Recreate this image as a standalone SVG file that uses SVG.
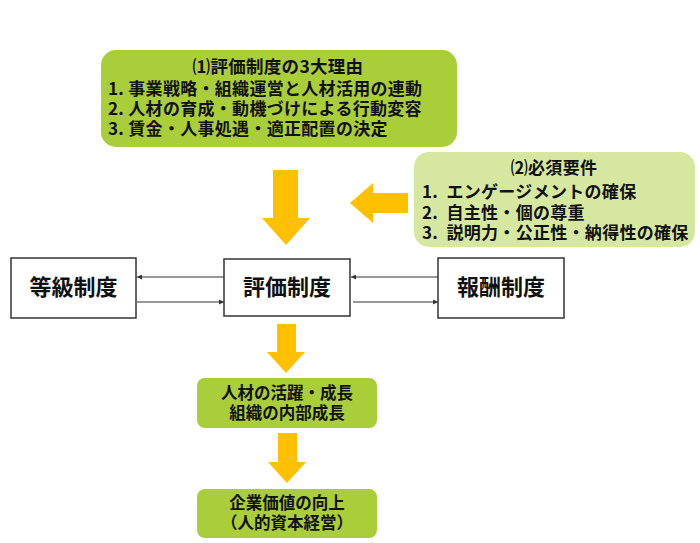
<svg xmlns="http://www.w3.org/2000/svg" width="700" height="543" viewBox="0 0 700 543">
<style>
text{font-family:"Noto Sans CJK JP","Noto Sans",sans-serif;font-weight:bold;fill:#111}
.t17{font-size:17px;letter-spacing:0.3px}
.t16{font-size:16.5px}
.t22{font-size:22px}
.mid{text-anchor:middle}
.g1{fill:#AACD3A}
.g2{fill:#D6E8A0}
.box{fill:#fff;stroke:#333;stroke-width:1.5}
.arr{fill:#FFC000}
.conn{stroke:#333;stroke-width:1.2;fill:none;marker-end:url(#ah)}
</style>
<defs>
<marker id="ah" viewBox="0 0 10 10" refX="10" refY="5" markerWidth="5" markerHeight="5" markerUnits="userSpaceOnUse" orient="auto">
<path d="M0,0 L10,5 L0,10 Z" fill="#333"/>
</marker>
</defs>
<rect width="700" height="543" fill="#fff"/>

<g id="reasons">
<rect class="g1" x="101" y="50" width="356" height="97" rx="15"/>
<text class="t17 mid" x="278" y="73" style="font-size:17.5px">⑴評価制度の3大理由</text>
<text class="t17" x="108" y="95">1. 事業戦略・組織運営と人材活用の連動</text>
<text class="t17" x="108" y="115">2. 人材の育成・動機づけによる行動変容</text>
<text class="t17" x="108" y="135">3. 賃金・人事処遇・適正配置の決定</text>
</g>

<g id="requirements">
<rect class="g2" x="414" y="152" width="281" height="95" rx="15"/>
<text class="t17 mid" x="554" y="174">⑵必須要件</text>
<text class="t17" x="422" y="198">1.&#160; エンゲージメントの確保</text>
<text class="t17" x="422" y="219">2.&#160; 自主性・個の尊重</text>
<text class="t17" x="422" y="239">3.&#160; 説明力・公正性・納得性の確保</text>
</g>

<g id="arrow-down-1"><path class="arr" d="M273,170 H298 V218 H310 L286,245 L262,218 H273 Z"/></g>
<g id="arrow-left"><path class="arr" d="M408,193 V213 H373 V223 L350,203 L373,183 V193 Z"/></g>

<g id="tokyu">
<rect class="box" x="11" y="258" width="125" height="60"/>
<text class="t22 mid" x="73.5" y="295">等級制度</text>
</g>
<g id="hyoka">
<rect class="box" x="224" y="259" width="126" height="57"/>
<text class="t22 mid" x="287" y="295">評価制度</text>
</g>
<g id="hoshu">
<rect class="box" x="438" y="258" width="126" height="60"/>
<text class="t22 mid" x="501" y="295">報酬制度</text>
</g>

<g id="connectors">
<line class="conn" x1="224" y1="277" x2="137" y2="277"/>
<line class="conn" x1="137" y1="302" x2="224" y2="302"/>
<line class="conn" x1="438" y1="277" x2="351" y2="277"/>
<line class="conn" x1="353" y1="302" x2="438" y2="302"/>
</g>

<g id="arrow-down-2"><path class="arr" d="M277,324 H296 V352 H305 L286,373 L267,352 H277 Z"/></g>

<g id="growth">
<rect class="g1" x="197" y="378" width="180" height="50" rx="8"/>
<text class="t16 mid" x="287" y="399">人材の活躍・成長</text>
<text class="t16 mid" x="287" y="419">組織の内部成長</text>
</g>

<g id="arrow-down-3"><path class="arr" d="M278,433 H297 V462 H306 L287,483 L268,462 H278 Z"/></g>

<g id="value">
<rect class="g1" x="197" y="489" width="180" height="49" rx="8"/>
<text class="t16 mid" x="287" y="509">企業価値の向上</text>
<text class="t16 mid" x="287" y="529">（人的資本経営）</text>
</g>
</svg>
